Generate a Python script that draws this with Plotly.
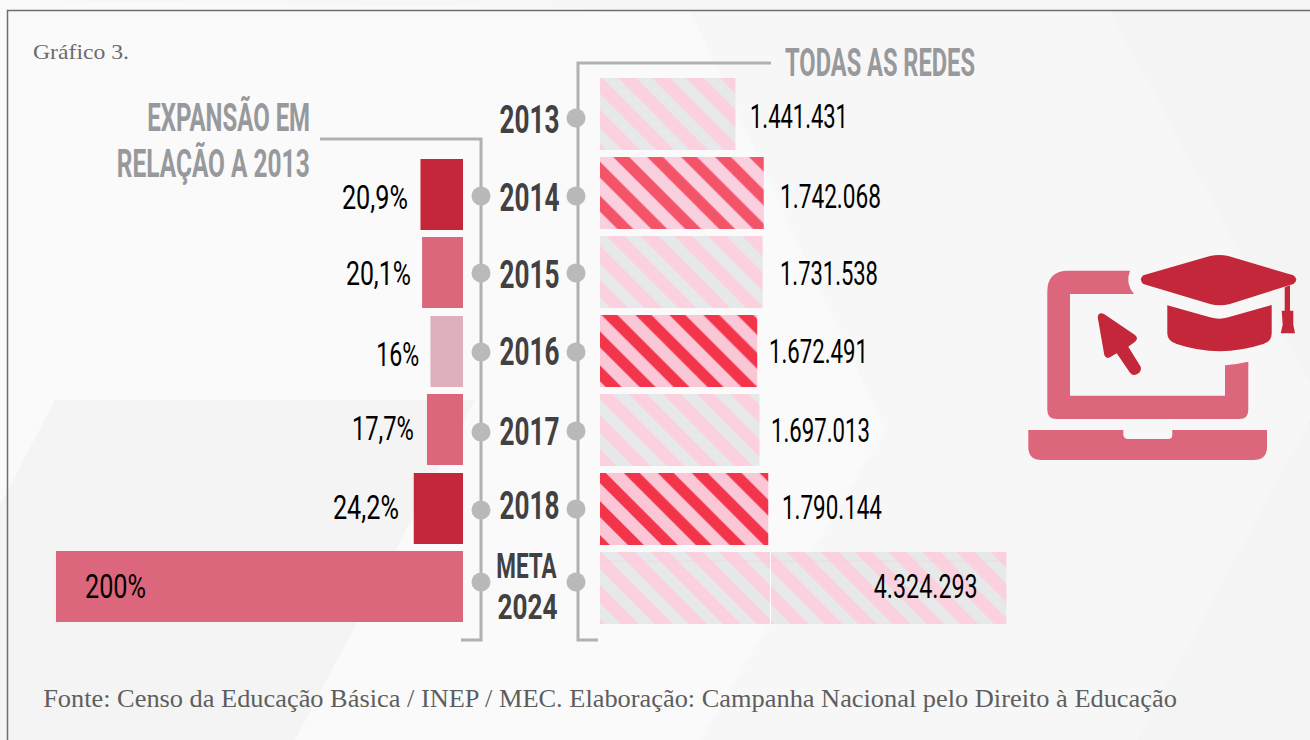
import json
import plotly.graph_objects as go

# ---------- data ----------
categories = ["2013", "2014", "2015", "2016", "2017", "2018", "META 2024"]
totals = [1441431, 1742068, 1731538, 1672491, 1697013, 1790144, 4324293]
expansion = [None, 20.9, 20.1, 16, 17.7, 24.2, 200]
total_labels = ["1.441.431", "1.742.068", "1.731.538", "1.672.491", "1.697.013", "1.790.144", "4.324.293"]
expansion_labels = ["", "20,9%", "20,1%", "16%", "17,7%", "24,2%", "200%"]

# ---------- style ----------
W, H = 1310, 740
COND = "Roboto"
SERIF = "Liberation Serif"
RED, ROSE, PALE = "#C32739", "#DC667C", "#DEB0BC"
GREY_S, PINK_S = "#E7E8E9", "#FBD1DF"
left_colors = [ROSE, RED, ROSE, PALE, ROSE, RED, ROSE]
stripe_fg = [GREY_S, "#F4546A", GREY_S, "#F2354A", GREY_S, "#F2354A", GREY_S]
stripe_bg = [PINK_S, "#FAD0DE", PINK_S, "#FBC6D6", PINK_S, "#FBC6D6", PINK_S]
dot_right_y = [118, 196, 273, 352, 431, 509, 582]
dot_left_y = [196, 273, 352, 432, 510, 582]
PITCH, FIRST = 79, 114
left_tops = [FIRST, 159, 237, 316, 394, 473, 551]
left_offsets = [(t - (FIRST + PITCH * i)) / PITCH for i, t in enumerate(left_tops)]

fig = go.Figure()
fig.add_bar(y=categories, x=expansion, orientation="h", xaxis="x", yaxis="y", width=71 / PITCH, offset=left_offsets,
            marker=dict(color=left_colors, line_width=0), showlegend=False, hoverinfo="skip")
fig.add_bar(y=categories, x=totals, orientation="h", xaxis="x2", yaxis="y", width=0.91,
            marker=dict(color=PINK_S, line_width=0,
                        pattern=dict(shape="\\", size=24, solidity=0.47, fgopacity=1,
                                     fgcolor=stripe_fg, bgcolor=stripe_bg, fillmode="overlay")),
            showlegend=False, hoverinfo="skip")
fig.add_scatter(x=[576] * 7, y=dot_right_y, xaxis="x3", yaxis="y3", mode="markers",
                marker=dict(size=19, color="#B8B9BB"), showlegend=False, hoverinfo="skip")
fig.add_scatter(x=[481] * 6, y=dot_left_y, xaxis="x3", yaxis="y3", mode="markers",
                marker=dict(size=19, color="#B8B9BB"), showlegend=False, hoverinfo="skip")


def ppath(pts, close=True):
    s = " L".join(f"{x / W:.5f},{1 - y / H:.5f}" for x, y in pts)
    return "M" + s + (" Z" if close else "")


def below(pts, fill=None, line=None, close=True):
    d = dict(type="path", xref="paper", yref="paper", layer="below", path=ppath(pts, close))
    if fill:
        d["fillcolor"] = fill
    d["line"] = line if line else dict(width=0)
    return d


def ref3(**k):
    return dict(xref="x3", yref="y3", **k)


shapes = [
    below([(0, 0), (690, 10), (885, 430), (700, 740), (0, 740)], fill="#FAFAFA"),
    below([(55, 400), (475, 400), (295, 740), (0, 740), (0, 505)], fill="#F4F4F4"),
    below([(1109, 10), (1310, 10), (1310, 383)], fill="#F4F4F4"),
    below([(1310, 420), (1310, 740), (1137, 740)], fill="#F4F4F4"),
]
BR = dict(color="#B0B1B3", width=3)
shapes.append(below([(320, 139), (481, 139), (481, 640), (461, 640)], line=BR, close=False))
shapes.append(below([(771, 63), (578, 63), (578, 640), (598, 640)], line=BR, close=False))
shapes.append(below([(7.5, 740), (7.5, 10.5), (1310, 10.5)], line=dict(color="#6E6E6E", width=1.5), close=False))
# seam and hairline in the target bar
shapes.append(ref3(type="line", x0=770.5, x1=770.5, y0=552, y1=624, line=dict(color="#FFFFFF", width=1)))
shapes.append(ref3(type="line", x0=600, x1=1006, y0=561, y1=561, line=dict(color="rgba(245,205,215,0.5)", width=1)))


def ipath(*segs):
    out = []
    for s in segs:
        cmd, nums = s[0], s[1:]
        pts = [f"{1010 + nums[i] / 3:.1f},{240 + nums[i + 1] / 3:.1f}" for i in range(0, len(nums), 2)]
        out.append(cmd + " ".join(pts))
    return " ".join(out) + " Z"


ICON = [
    (ROSE, ipath(("M", 360, 92), ("L", 175, 92), ("Q", 112, 92, 112, 155), ("L", 112, 510), ("Q", 112, 537, 140, 537),
                 ("L", 688, 537), ("Q", 715, 537, 715, 510), ("L", 715, 365), ("Q", 680, 373, 645, 376), ("L", 645, 467),
                 ("L", 180, 467), ("L", 180, 162), ("L", 372, 162), ("Q", 345, 130, 360, 92))),
    (ROSE, ipath(("M", 55, 570), ("L", 340, 570), ("L", 340, 585), ("Q", 342, 597, 354, 597), ("L", 474, 597),
                 ("Q", 487, 597, 487, 585), ("L", 487, 570), ("L", 771, 570), ("L", 771, 620), ("Q", 771, 660, 730, 660),
                 ("L", 95, 660), ("Q", 55, 660, 55, 620))),
    (RED, ipath(("M", 400, 106), ("L", 600, 48), ("Q", 628, 42, 655, 48), ("L", 850, 106), ("Q", 868, 118, 850, 132),
                ("L", 660, 192), ("Q", 628, 200, 600, 192), ("L", 400, 132), ("Q", 385, 118, 400, 106))),
    (RED, ipath(("M", 824, 142), ("L", 840, 136), ("L", 840, 212), ("L", 850, 212), ("L", 850, 254), ("L", 855, 280),
                ("L", 812, 280), ("L", 818, 254), ("L", 815, 212), ("L", 824, 212))),
    (RED, ipath(("M", 472, 196), ("L", 600, 232), ("Q", 628, 240, 655, 232), ("L", 785, 195), ("L", 785, 280),
                ("Q", 785, 305, 760, 312), ("Q", 628, 355, 500, 312), ("Q", 472, 303, 472, 280))),
    (RED, ipath(("M", 263, 232), ("Q", 265, 215, 282, 222), ("L", 375, 285), ("Q", 387, 295, 375, 305), ("L", 355, 320),
                ("L", 392, 380), ("Q", 396, 395, 380, 403), ("Q", 368, 408, 360, 398), ("L", 320, 340), ("L", 300, 352),
                ("Q", 288, 358, 283, 345))),
]
for col, p in ICON:
    shapes.append(ref3(type="path", path=p, fillcolor=col, line_width=0))

annotations = []
fit_widths = []  # text width in px, one per annotation


def note(text, x, y, size, color, width, family=COND, xanchor="center", bold=False):
    t = f"<b>{text}</b>" if bold else text
    annotations.append(dict(text=t, x=x, y=y, xref="x3", yref="y3", showarrow=False, xanchor=xanchor,
                            yanchor="middle", borderpad=0, borderwidth=0,
                            font=dict(family=family, size=size, color=color)))
    fit_widths.append(width)


note("Gráfico 3.", 33, 51, 22, "#6B6B6B", 96, SERIF, "left")
note("Fonte: Censo da Educação Básica / INEP / MEC. Elaboração: Campanha Nacional pelo Direito à Educação",
     43, 698, 25, "#5E5E5E", 1134, SERIF, "left")
HEAD = "#98999C"
note("TODAS AS REDES", 785, 63, 38, HEAD, 190, xanchor="left", bold=True)
note("EXPANSÃO EM", 310, 118, 38, HEAD, 163, xanchor="right", bold=True)
note("RELAÇÃO A 2013", 310, 164, 38, HEAD, 193, xanchor="right", bold=True)

YEAR = "#414042"
year_y = [120, 198, 275, 352, 432, 506]
for c, yy in zip(categories[:-1], year_y):
    note(c, 529, yy, 38, YEAR, 60, bold=True)
note("META", 527, 566, 34.5, YEAR, 61, bold=True)
note("2024", 527, 606.5, 34.5, YEAR, 60, bold=True)

NUM_FONT = dict(family=COND, size=34, color="#000000", weight=400)
total_shift = [14, 15.5, 16.5, 11, 10.5, 13, -27]
total_yshift = [-2, -3, -1, 0, 0, 2, 2]
total_width = [98, 101, 98, 99, 99, 100, 104]
for i, (v, lab) in enumerate(zip(totals, total_labels)):
    inside = i == len(categories) - 1
    annotations.append(dict(text=lab, x=v, y=i, xref="x2", yref="y", showarrow=False,
                            xanchor="right" if inside else "left", borderpad=0,
                            xshift=total_shift[i], yshift=total_yshift[i], font=NUM_FONT))
    fit_widths.append(total_width[i])

exp_shift = [0, -11.5, -10, -10.5, -12, -13.5, 28]
exp_yshift = [0, -4, -1, -3, 2, 2, 2]
exp_width = [0, 66, 65, 43, 62, 66, 61]
for i, (v, lab) in enumerate(zip(expansion, expansion_labels)):
    if v is None:
        continue
    inside = i == len(categories) - 1
    annotations.append(dict(text=lab, x=v, y=i, xref="x", yref="y", showarrow=False,
                            xanchor="left" if inside else "right", borderpad=0,
                            xshift=exp_shift[i], yshift=exp_yshift[i], font=NUM_FONT))
    fit_widths.append(exp_width[i])

hidden = dict(visible=False, fixedrange=True)
fig.update_layout(
    width=W, height=H, margin=dict(l=0, r=0, t=0, b=0), autosize=False,
    paper_bgcolor="#F7F7F7", plot_bgcolor="rgba(0,0,0,0)", barmode="overlay", showlegend=False,
    xaxis=dict(domain=[0, 463 / W], range=[227.5, 0], anchor="y", **hidden),
    xaxis2=dict(domain=[600 / W, 1], range=[0, 710 / 9.40e-5], anchor="y", **hidden),
    xaxis3=dict(domain=[0, 1], range=[0, W], anchor="y3", **hidden),
    yaxis=dict(type="category", categoryorder="array", categoryarray=categories,
               domain=[0, 1], range=[626 / 79, -114 / 79], anchor="x", **hidden),
    yaxis3=dict(domain=[0, 1], range=[H, 0], anchor="x3", **hidden),
    shapes=shapes, annotations=annotations,
)

# no installed font is as condensed as the original: narrow each label to its measured width
POST = """
document.body.style.margin = '0';
document.documentElement.style.overflow = 'hidden';
var gd = document.getElementById('{plot_id}');
var widths = %s;
gd.querySelectorAll('g.annotation').forEach(function (g) {
  var i = +g.getAttribute('data-index');
  var t = g.querySelector('text.annotation-text');
  if (!t || !widths[i]) return;
  var bb = t.getBBox();
  var a = gd.layout.annotations[i].xanchor;
  var cx = a === 'left' ? bb.x : (a === 'right' ? bb.x + bb.width : bb.x + bb.width / 2);
  var s = widths[i] / bb.width;
  t.setAttribute('transform', 'translate(' + cx + ' 0) scale(' + s + ' 1) translate(' + (-cx) + ' 0)');
});
""" % json.dumps(fit_widths)

fig.write_html("out.html", config=dict(displayModeBar=False), post_script=POST)
